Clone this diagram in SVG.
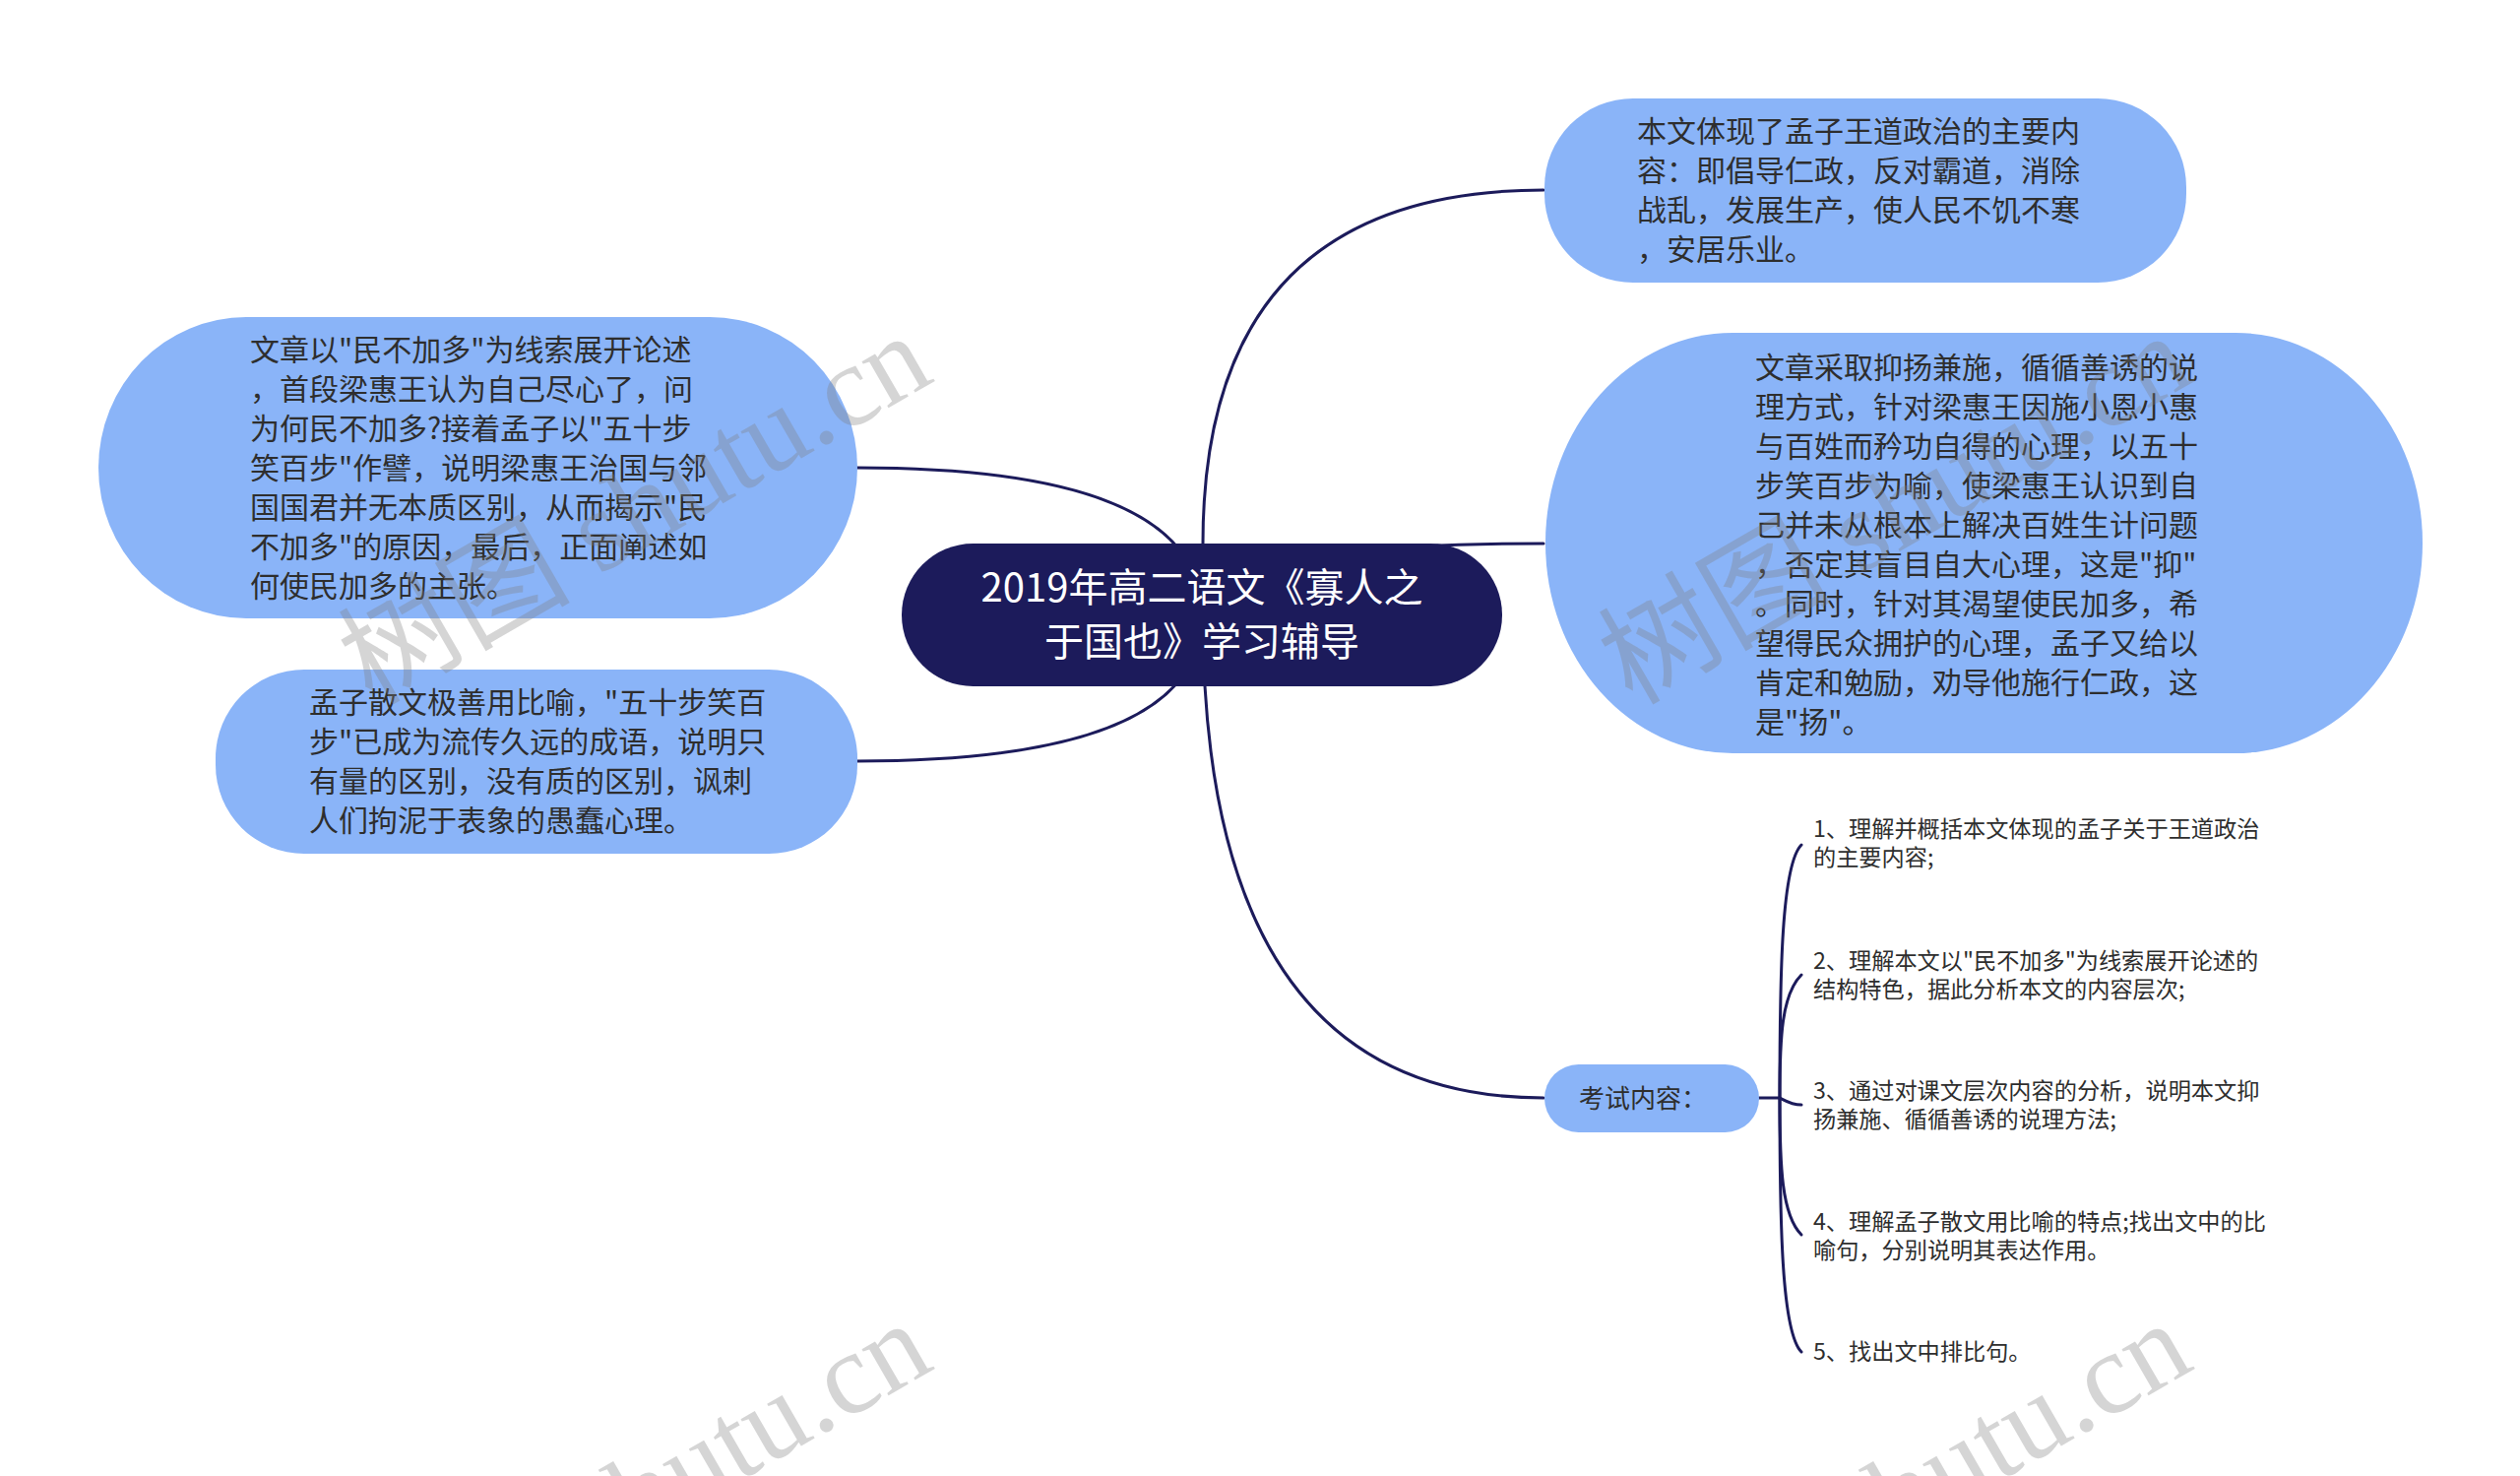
<svg xmlns="http://www.w3.org/2000/svg" width="2560" height="1499" viewBox="0 0 2560 1499">
<style>
.bg{fill:#ffffff}
.conn{fill:none;stroke:#1c1b5b;stroke-width:3;stroke-linecap:round}
.root{fill:#1c1b5b}
.topic{fill:#8ab4f8}
.rt{font-family:"Noto Sans CJK SC","Liberation Sans",sans-serif;font-size:40px;fill:#ffffff;text-anchor:middle}
.t{font-family:"Noto Sans CJK SC","Liberation Sans",sans-serif;font-size:30px;fill:#2e2e2e}
.kt{font-family:"Noto Sans CJK SC","Liberation Sans",sans-serif;font-size:26px;fill:#2e2e2e}
.lf{font-family:"Noto Sans CJK SC","Liberation Sans",sans-serif;font-size:23.2px;fill:#2e2e2e}
.wm{font-family:"Liberation Serif","Noto Sans CJK SC",serif;font-size:118px;fill:#808080;fill-opacity:0.33}
</style>
<rect class="bg" x="0" y="0" width="2560" height="1499"/>
<g id="connectors">
<path class="conn" d="M1222 600 L1222 552 Q1222 193 1568 193"/>
<path class="conn" d="M1221 625 Q1221 552 1568 552"/>
<path class="conn" d="M1221 625 Q1221 475 870 475"/>
<path class="conn" d="M1221 625 Q1221 773 870 773"/>
<path class="conn" d="M1222 625 Q1222 1115 1568 1115"/>
<path class="conn" d="M1787 1115 L1808 1115"/>
<path class="conn" d="M1808 1115 C1808 986 1810 878 1830 858"/>
<path class="conn" d="M1808 1115 C1808 1053 1810 1010 1830 990"/>
<path class="conn" d="M1808 1115 C1814 1118 1820 1122 1830 1122"/>
<path class="conn" d="M1808 1115 C1808 1185 1810 1234 1830 1254"/>
<path class="conn" d="M1808 1115 C1808 1244 1810 1353 1830 1373"/>
</g>
<g id="root">
<rect class="root" x="916" y="552" width="610" height="145" rx="72.5" ry="72.5"/>
<text class="rt" x="1221" y="611">2019年高二语文《寡人之</text>
<text class="rt" x="1221" y="666">于国也》学习辅导</text>
</g>
<g id="node-wangdao">
<rect class="topic" x="1569" y="100" width="652" height="187" rx="90" ry="90"/>
<text class="t" x="1663" y="144">本文体现了孟子王道政治的主要内</text>
<text class="t" x="1663" y="184">容：即倡导仁政，反对霸道，消除</text>
<text class="t" x="1663" y="224">战乱，发展生产，使人民不饥不寒</text>
<text class="t" x="1663" y="264">，安居乐业。</text>
</g>
<g id="node-yiyang">
<rect class="topic" x="1570" y="338" width="891" height="427" rx="190" ry="213"/>
<text class="t" x="1783" y="384">文章采取抑扬兼施，循循善诱的说</text>
<text class="t" x="1783" y="424">理方式，针对梁惠王因施小恩小惠</text>
<text class="t" x="1783" y="464">与百姓而矜功自得的心理，以五十</text>
<text class="t" x="1783" y="504">步笑百步为喻，使梁惠王认识到自</text>
<text class="t" x="1783" y="544">己并未从根本上解决百姓生计问题</text>
<text class="t" x="1783" y="584">，否定其盲目自大心理，这是"抑"</text>
<text class="t" x="1783" y="624">。同时，针对其渴望使民加多，希</text>
<text class="t" x="1783" y="664">望得民众拥护的心理，孟子又给以</text>
<text class="t" x="1783" y="704">肯定和勉励，劝导他施行仁政，这</text>
<text class="t" x="1783" y="744">是"扬"。</text>
</g>
<g id="node-xiansuo">
<rect class="topic" x="100" y="322" width="771" height="306" rx="150" ry="153"/>
<text class="t" x="254" y="366">文章以"民不加多"为线索展开论述</text>
<text class="t" x="254" y="406">，首段梁惠王认为自己尽心了，问</text>
<text class="t" x="254" y="446">为何民不加多?接着孟子以"五十步</text>
<text class="t" x="254" y="486">笑百步"作譬，说明梁惠王治国与邻</text>
<text class="t" x="254" y="526">国国君并无本质区别，从而揭示"民</text>
<text class="t" x="254" y="566">不加多"的原因，最后，正面阐述如</text>
<text class="t" x="254" y="606">何使民加多的主张。</text>
</g>
<g id="node-biyu">
<rect class="topic" x="219" y="680" width="652" height="187" rx="90" ry="90"/>
<text class="t" x="314" y="724">孟子散文极善用比喻，"五十步笑百</text>
<text class="t" x="314" y="764">步"已成为流传久远的成语，说明只</text>
<text class="t" x="314" y="804">有量的区别，没有质的区别，讽刺</text>
<text class="t" x="314" y="844">人们拘泥于表象的愚蠢心理。</text>
</g>
<g id="node-kaoshi">
<rect class="topic" x="1569" y="1081" width="218" height="69" rx="34.5" ry="34.5"/>
<text class="kt" x="1604" y="1125">考试内容：</text>
</g>
<g id="leaf-1">
<text class="lf" x="1842" y="850">1、理解并概括本文体现的孟子关于王道政治</text>
<text class="lf" x="1842" y="879">的主要内容;</text>
</g>
<g id="leaf-2">
<text class="lf" x="1842" y="984">2、理解本文以"民不加多"为线索展开论述的</text>
<text class="lf" x="1842" y="1013">结构特色，据此分析本文的内容层次;</text>
</g>
<g id="leaf-3">
<text class="lf" x="1842" y="1116">3、通过对课文层次内容的分析，说明本文抑</text>
<text class="lf" x="1842" y="1145">扬兼施、循循善诱的说理方法;</text>
</g>
<g id="leaf-4">
<text class="lf" x="1842" y="1249">4、理解孟子散文用比喻的特点;找出文中的比</text>
<text class="lf" x="1842" y="1278">喻句，分别说明其表达作用。</text>
</g>
<g id="leaf-5">
<text class="lf" x="1842" y="1381">5、找出文中排比句。</text>
</g>
<g id="watermarks">
<text class="wm" x="378" y="717" transform="rotate(-30 378 717)">树图 shutu.cn</text>
<text class="wm" x="1658" y="717" transform="rotate(-30 1658 717)">树图 shutu.cn</text>
<text class="wm" x="378" y="1720" transform="rotate(-30 378 1720)">树图 shutu.cn</text>
<text class="wm" x="1658" y="1720" transform="rotate(-30 1658 1720)">树图 shutu.cn</text>
</g>
</svg>
